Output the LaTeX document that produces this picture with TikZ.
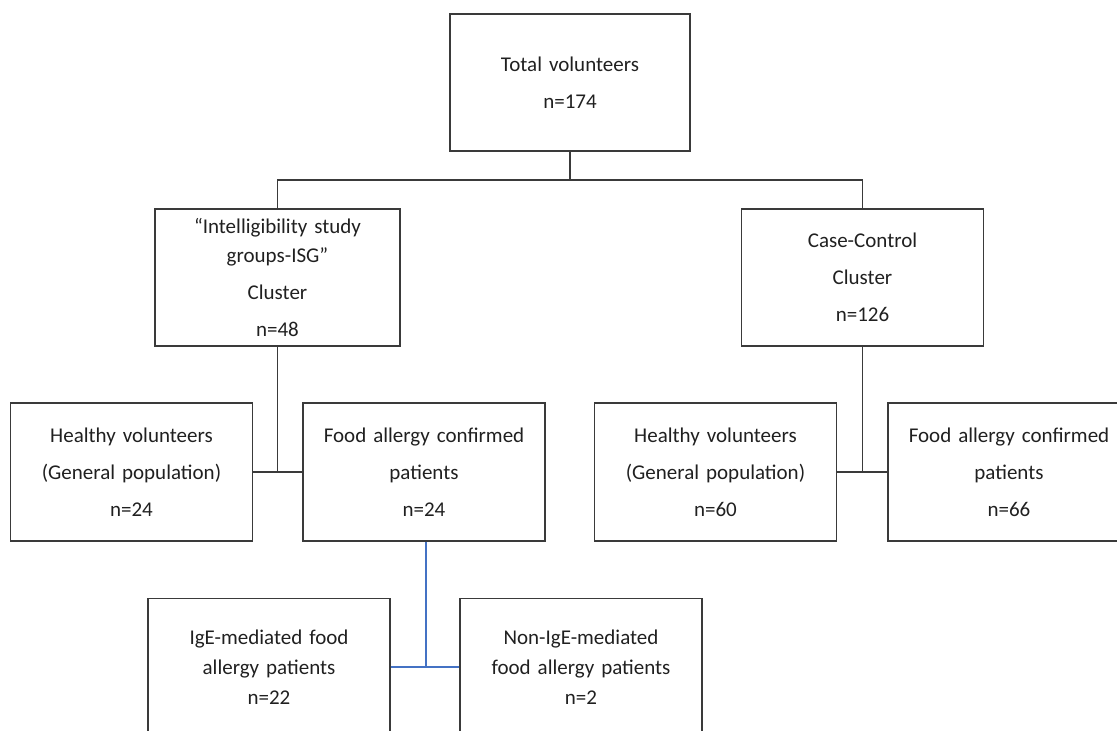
\documentclass[tikz,border=0pt]{standalone}
\usepackage{fontspec}
\setmainfont{Carlito}
\usepackage{tikz}
\usetikzlibrary{calc}
\definecolor{linegray}{HTML}{3A3A3A}
\definecolor{textgray}{HTML}{202020}
\definecolor{linkblue}{HTML}{4472C4}

\tikzset{
  box/.style={draw=linegray, line width=1.4pt, minimum width=242pt, minimum height=137pt,
    inner sep=0pt, text width=236pt, align=center, text=textgray,
    font=\fontsize{21}{37}\selectfont},
  link/.style={draw=linegray, line width=1.4pt},
  bluelink/.style={draw=linkblue, line width=1.5pt}
}

\begin{document}
\begin{tikzpicture}[x=1pt, y=-1pt]
	\useasboundingbox (0,0) rectangle (1117,731);
	\clip (0,0) rectangle (1117,731);

	% top level
	\node[box, minimum width=240pt] (total) at (570,82.5) {Total volunteers\\n=174};
	\coordinate (split) at (570,180);

	% two clusters
	\node[box, minimum width=245pt] (isg) at (277.5,277.5)
		{``Intelligibility study\\[-8pt] groups-ISG''\\Cluster\\n=48};
	\node[box] (cc) at (862.5,277.5) {Case-Control\\Cluster\\n=126};

	% groups of each cluster
	\node[box, minimum height=138pt] (hvisg) at (131.5,472) {Healthy volunteers\\(General population)\\n=24};
	\node[box, minimum height=138pt] (faisg) at (424,472) {Food allergy confirmed\\patients\\n=24};
	\node[box, minimum height=138pt] (hvcc) at (715.5,472) {Healthy volunteers\\(General population)\\n=60};
	\node[box, minimum height=138pt] (facc) at (1009,472) {Food allergy confirmed\\patients\\n=66};

	% subtypes of the allergic patients
	\node[box, font=\fontsize{21}{30}\selectfont] (ige) at (269,667)
		{IgE-mediated food\\allergy patients\\n=22};
	\node[box, font=\fontsize{21}{30}\selectfont] (nonige) at (581,667)
		{Non-IgE-mediated\\food allergy patients\\n=2};

	\draw[link] (total.south) -- (split);
	\draw[link] (isg.north) |- (split) -| (cc.north);

	\draw[link] (isg.south) -- (isg.south |- hvisg.east);
	\draw[link] (hvisg.east) -- (faisg.west);
	\draw[link] (cc.south) -- (cc.south |- hvcc.east);
	\draw[link] (hvcc.east) -- (facc.west);

	\draw[bluelink] ($(faisg.south)+(2,0)$) coordinate (drop) -- (drop |- ige.east);
	\draw[bluelink] (ige.east) -- (nonige.west);
\end{tikzpicture}
\end{document}
